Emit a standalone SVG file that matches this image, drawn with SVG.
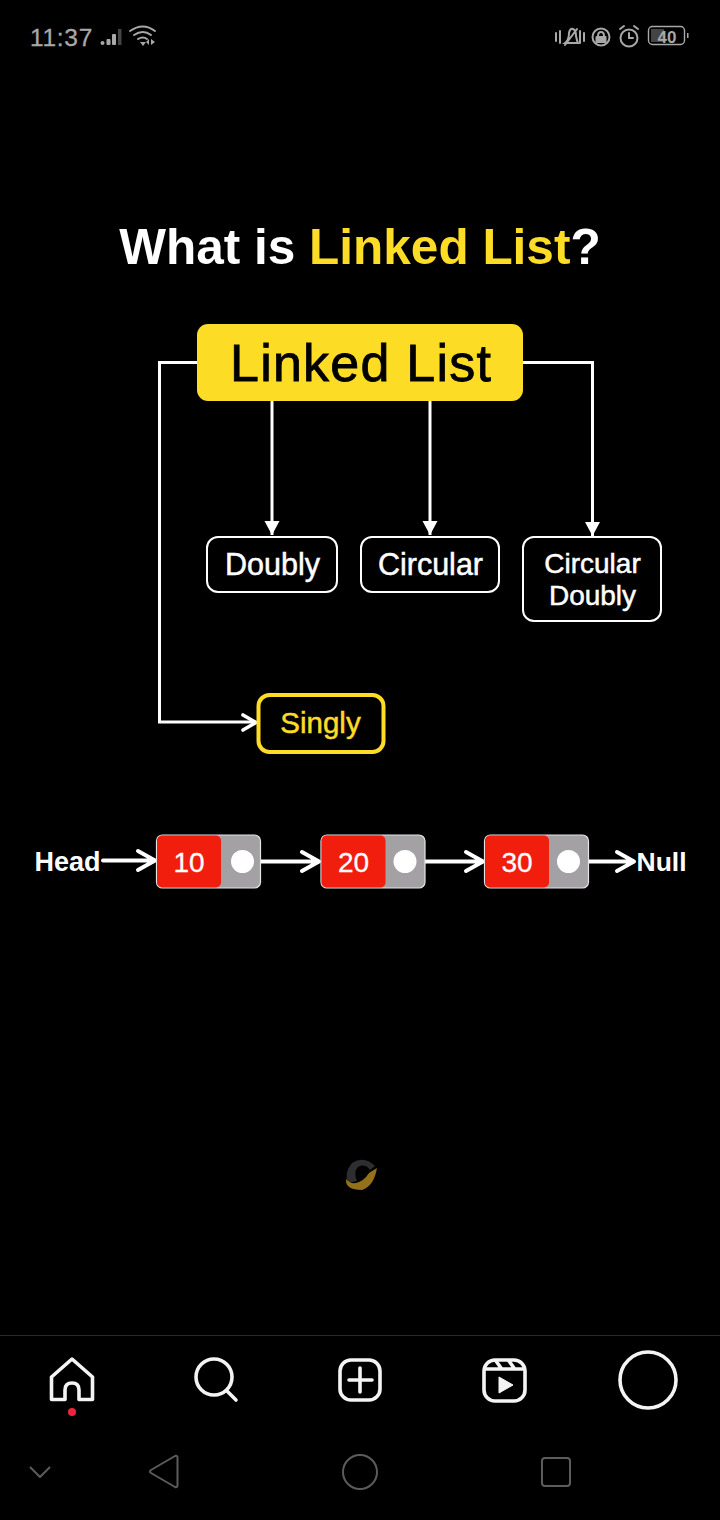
<svg xmlns="http://www.w3.org/2000/svg" width="720" height="1520" viewBox="0 0 720 1520">
<style>
text{font-family:"Liberation Sans",Arial,sans-serif;}
.w{fill:#fff;font-weight:700;}
.m{font-weight:400;fill:#fff;text-anchor:middle;stroke:#fff;stroke-width:0.5;}
.c{fill:none;stroke:#fff;stroke-width:3;}
.a{fill:none;stroke:#fff;stroke-width:3.6;stroke-linecap:round;stroke-linejoin:round;}
.h{fill:none;stroke:#fff;stroke-width:4;stroke-linecap:round;stroke-linejoin:round;}
.box{fill:#000;stroke:#fff;stroke-width:2;}
.cell{fill:#a3a1a4;stroke:#e4e4e4;stroke-width:1.2;}
.red{fill:#f11d0d;}
.num{fill:#fff;font-size:28px;text-anchor:middle;stroke:#fff;stroke-width:0.3;}
.dot{fill:#fff;}
.ic{fill:none;stroke:#f4f4f4;stroke-width:3.6;stroke-linecap:round;stroke-linejoin:round;}
.st{fill:none;stroke:#a8a8a8;stroke-width:2;stroke-linecap:round;}
.sf{fill:#a8a8a8;}
.nv{fill:none;stroke:#5c5c5c;stroke-width:2;stroke-linejoin:round;}
</style>
<defs>
<marker id="tri" markerUnits="userSpaceOnUse" markerWidth="15" markerHeight="16" refX="14" refY="8" orient="auto"><path d="M0 0.500L14 8L0 15.500Z" fill="#fff"/></marker>
</defs>
<rect width="720" height="1520" fill="#000"/>
<g id="status-bar">
<text x="30" y="46" font-size="24.500" fill="#a8a8a8" stroke="#a8a8a8" stroke-width="0.3" letter-spacing="0.700">11:37</text>
<circle cx="102.500" cy="43" r="2" class="sf"/><rect x="106.500" y="39" width="4" height="6" rx="1" class="sf"/><rect x="112" y="34" width="4" height="11" rx="1" class="sf"/><rect x="118" y="29" width="3.500" height="16" fill="#444"/>
<path class="st" stroke-width="2.400" d="M130 31Q143 22 155 31M134 35Q143 29 151 35M138 39Q143 36 147 39"/><path class="sf" d="M140 42L146 42L143 46Z"/><path class="sf" d="M149 39L149 45L146 42ZM151 39L151 45L155 42Z"/>
<path class="st" d="M556 33V41M560 31V43M580 31V43M584 33V41M565 43Q569 40 569 33Q570 28 573 29Q576 30 576 36Q577 41 578 43ZM565 45L577 29"/>
<circle cx="601" cy="37" r="8.500" class="st"/><rect x="595.500" y="36" width="11" height="7" rx="1" class="sf"/><path class="st" d="M598 36Q598 32 601 32Q604 32 604 36"/>
<circle cx="629" cy="38" r="8.500" class="st"/><path class="st" d="M629 33V38H633M620 29L624 26M638 29L634 26"/>
<rect x="648.500" y="26.500" width="36" height="18" rx="4" fill="none" stroke="#a8a8a8" stroke-width="1.400"/><rect x="651" y="29" width="13" height="13" fill="#444"/><rect x="687" y="33" width="1.500" height="5" class="sf"/>
<text x="667" y="42.500" font-size="17" font-weight="700" fill="#a8a8a8" text-anchor="middle">40</text>
</g>
<text id="title" x="360" y="264" font-size="49.500" font-weight="700" text-anchor="middle" fill="#fff">What is <tspan fill="#fddc26">Linked List</tspan>?</text>
<g id="connectors">
<path class="c" marker-end="url(#tri)" d="M272 400V535"/>
<path class="c" marker-end="url(#tri)" d="M430 400V535"/>
<path class="c" marker-end="url(#tri)" d="M522 362.500H592.500V536"/>
<path class="c" d="M198 362.500H159.500V722H255"/>
<path class="a" d="M243 715L256 722.500L243 730"/>
<path class="h" d="M103 860.500H154M138 851L155 860.500L138 870"/>
<path class="h" d="M254 861.500H318M302 852L319 861.500L302 871"/>
<path class="h" d="M418 861.500H482M466 852L483 861.500L466 871"/>
<path class="h" d="M581 861.500H634M617 852L634 861.500L617 871"/>
</g>
<g id="root"><rect x="197" y="324" width="326" height="77" rx="11" fill="#fddc26"/><text x="360.500" y="381" font-size="52" textLength="261" lengthAdjust="spacing" text-anchor="middle" fill="#000" stroke="#000" stroke-width="0.800">Linked List</text></g>
<g id="doubly"><rect class="box" x="207" y="537" width="130" height="55" rx="11"/><text class="m" x="272.500" y="575" font-size="30.500">Doubly</text></g>
<g id="circular"><rect class="box" x="361" y="537" width="138" height="55" rx="11"/><text class="m" x="430.500" y="575" font-size="30.500">Circular</text></g>
<g id="circular-doubly"><rect class="box" x="523" y="537" width="138" height="84" rx="11"/><text class="m" x="592.500" y="573" font-size="28">Circular</text><text class="m" x="592.500" y="605" font-size="28">Doubly</text></g>
<g id="singly"><rect x="258.500" y="695" width="125" height="57" rx="11" fill="#000" stroke="#fddc26" stroke-width="4"/><text x="320.500" y="733" font-size="29.500" text-anchor="middle" fill="#fddc26" stroke="#fddc26" stroke-width="0.500">Singly</text></g>
<g id="head"><text class="w" x="34.500" y="871" font-size="27">Head</text></g>
<g id="node-10"><rect class="cell" x="156.500" y="835" width="104" height="53" rx="6"/><rect class="red" x="157" y="835.500" width="64" height="52" rx="5"/><text class="num" x="189" y="872">10</text><circle class="dot" cx="242.500" cy="861.500" r="11.500"/></g>
<g id="node-20"><rect class="cell" x="321" y="835" width="104" height="53" rx="6"/><rect class="red" x="321.500" y="835.500" width="64" height="52" rx="5"/><text class="num" x="353.500" y="872">20</text><circle class="dot" cx="405" cy="861.500" r="11.500"/></g>
<g id="node-30"><rect class="cell" x="484.500" y="835" width="104" height="53" rx="6"/><rect class="red" x="485" y="835.500" width="64" height="52" rx="5"/><text class="num" x="517" y="872">30</text><circle class="dot" cx="568.500" cy="861.500" r="11.500"/></g>
<g id="null"><text class="w" x="636.500" y="871" font-size="26.500">Null</text></g>
<g id="watermark"><path d="M375 1166Q364 1155 352 1163Q344 1172 348 1183L357 1181Q353 1172 358 1167Q365 1163 370 1170Z" fill="#2e2e30"/><path d="M346 1179Q345 1190 362 1190Q374 1186 377 1168L369 1173Q364 1181 356 1183Q350 1184 346 1179Z" fill="#94701a"/></g>
<rect id="nav-divider" x="0" y="1335" width="720" height="1" fill="#2a2a2a"/>
<g id="tab-bar">
<path class="ic" d="M51.500 1399.500V1377L72 1359L92.500 1377V1399.500H79V1390Q79 1383 72 1383Q65 1383 65 1390V1399.500Z"/>
<circle cx="72" cy="1412" r="4" fill="#f0233c"/>
<circle class="ic" cx="214" cy="1377" r="18"/><path class="ic" d="M227 1391L236 1400"/>
<rect class="ic" x="340" y="1360" width="40" height="40" rx="11"/><path class="ic" d="M360 1368V1392M349 1380H372"/>
<rect class="ic" x="484" y="1360" width="41" height="41" rx="11"/><path class="ic" d="M485 1369H524M496 1361L501 1368M509 1361L514 1368"/><path d="M499 1377L513 1385L499 1393Z" fill="#f4f4f4" stroke="#f4f4f4" stroke-width="1" stroke-linejoin="round"/>
<circle cx="648" cy="1380" r="28" fill="none" stroke="#f4f4f4" stroke-width="3.600"/>
</g>
<g id="system-nav">
<path class="nv" d="M30 1467L40 1477L50 1467"/>
<path class="nv" d="M175 1456Q177.500 1455 177.500 1458V1485Q177.500 1488 175 1487L151 1473Q149 1471.500 151 1470Z"/>
<circle class="nv" cx="360" cy="1472" r="17"/>
<rect class="nv" x="542" y="1458" width="28" height="28" rx="3"/>
</g>
</svg>
